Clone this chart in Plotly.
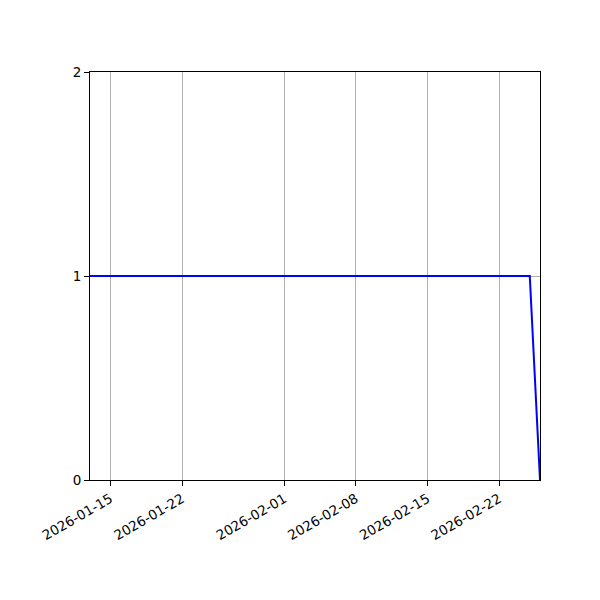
import plotly.graph_objects as go

dates = ["2026-01-13", "2026-02-25", "2026-02-26"]
values = [1, 1, 0]
x_ticks = ["2026-01-15", "2026-01-22", "2026-02-01", "2026-02-08", "2026-02-15", "2026-02-22"]
y_ticks = [0, 1, 2]

fig = go.Figure()
fig.add_trace(go.Scatter(x=dates, y=values, mode="lines",
                         line=dict(color="#0000ff", width=2), showlegend=False))

fig.update_layout(
    width=600, height=600,
    margin=dict(l=82, r=68, t=64, b=128),
    paper_bgcolor="white", plot_bgcolor="white",
    font=dict(family="DejaVu Sans", size=13.5, color="black"),
)
fig.update_xaxes(
    type="date", range=["2026-01-13", "2026-02-26"],
    tickvals=x_ticks, ticktext=x_ticks, tickangle=-30,
    showgrid=True, gridcolor="#b0b0b0", gridwidth=1,
    showline=True, linecolor="black", linewidth=1, mirror=True,
    ticks="outside", ticklen=5, tickcolor="black", zeroline=False,
)
fig.update_yaxes(
    range=[0, 2], tickvals=y_ticks,
    showgrid=True, gridcolor="#b0b0b0", gridwidth=1,
    showline=True, linecolor="black", linewidth=1, mirror=True,
    ticks="outside", ticklen=5, tickcolor="black", zeroline=False,
)
fig.write_html("out.html")
